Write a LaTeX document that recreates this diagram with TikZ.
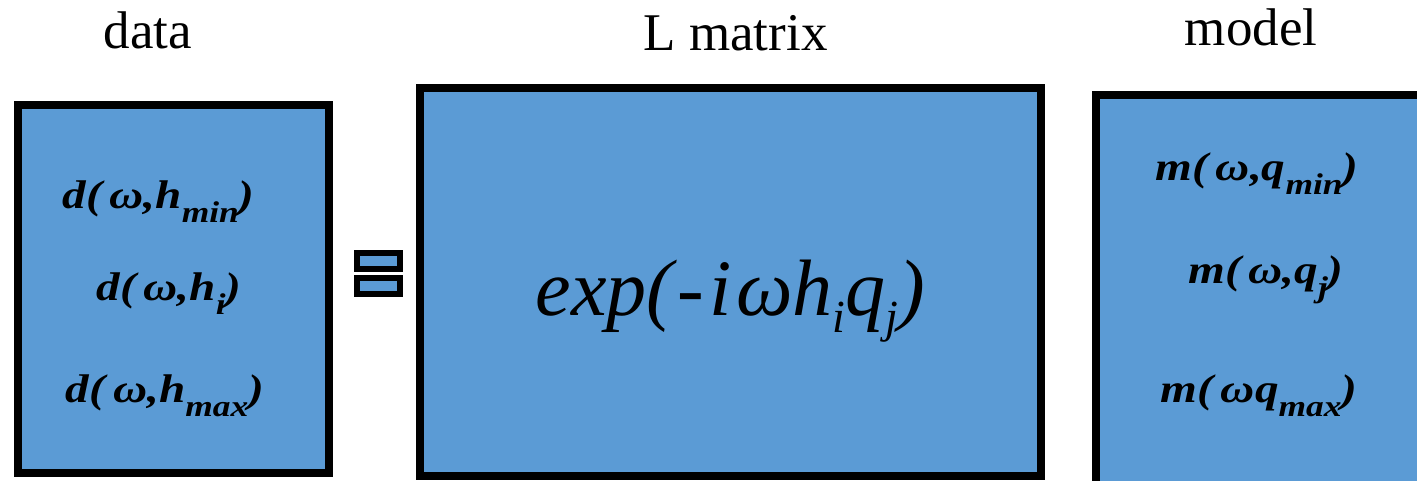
\documentclass[tikz,border=0pt]{standalone}
\usepackage{fontspec}
\setmainfont{Liberation Serif}
\definecolor{boxblue}{RGB}{91,155,213}
\newcommand{\lowsub}[3]{\raisebox{-#1pt}{\fontsize{#2}{#2}\selectfont #3}}
\newcommand{\stretchx}[2]{\scalebox{#1}[1]{#2}}
\begin{document}
\begin{tikzpicture}[x=1pt,y=-1pt,
  matbox/.style={draw=black, line width=8pt, fill=boxblue, rectangle, inner sep=0pt},
  eqbar/.style={draw=black, line width=6pt, fill=boxblue, rectangle, inner sep=0pt,
    minimum width=43pt, minimum height=16pt},
  lbl/.style={anchor=base, inner sep=0pt, font=\fontsize{53}{53}\selectfont},
  bitext/.style={anchor=base, inner sep=0pt, font=\fontsize{40}{40}\selectfont\bfseries\itshape},
  bigtext/.style={anchor=base, inner sep=0pt, font=\fontsize{80}{80}\selectfont\itshape}]
\useasboundingbox (0,0) rectangle (1417,480);
\clip (0,0) rectangle (1417,480);
\node[matbox, minimum width=311pt, minimum height=368pt] (data) at (173.5,289) {};
\node[matbox, minimum width=621pt, minimum height=388pt] (lmat) at (730.5,282) {};
\node[matbox, minimum width=340pt, minimum height=395pt] (model) at (1266,292.5) {};
\node[eqbar] (eqa) at (378.5,261) {};
\node[eqbar] (eqb) at (378.5,285.5) {};
\node[lbl] (tdata) at (148,48) {data};
\node[lbl] (tlmat) at (735.5,50) {L matrix};
\node[lbl] (tmodel) at (1251,45) {model};
\node[bitext] (d1) at (158.5,208) {\stretchx{1.18}{d(\,ω,h\lowsub{14}{30}{min})}};
\node[bitext] (d2) at (169,300) {\stretchx{1.18}{d(\,ω,h\lowsub{14}{30}{i})}};
\node[bitext] (d3) at (165,402) {\stretchx{1.18}{d(\,ω,h\lowsub{14}{30}{max})}};
\node[bitext] (m1) at (1257,180) {\stretchx{1.18}{m(\,ω,q\lowsub{14}{30}{min})}};
\node[bitext] (m2) at (1266,283) {\stretchx{1.18}{m(\,ω,q\lowsub{14}{30}{j})}};
\node[bitext] (m3) at (1259,402) {\stretchx{1.18}{m(\,ωq\lowsub{14}{30}{max})}};
\node[bigtext] (ex) at (730.5,315) {exp(\kern4pt-\kern5pt i\kern5pt ωh\lowsub{17}{46}{i}q\lowsub{17}{46}{j})};
\end{tikzpicture}
\end{document}
